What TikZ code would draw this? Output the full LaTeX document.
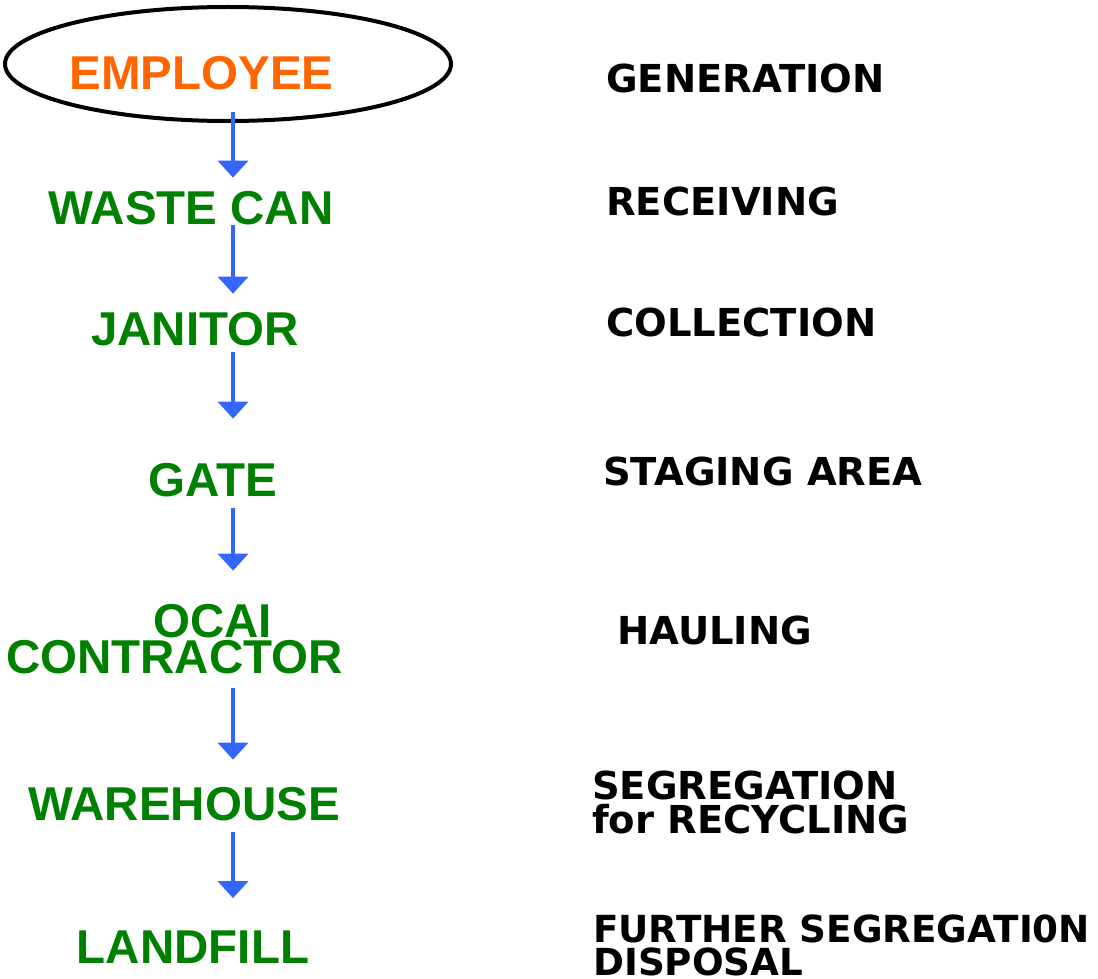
\documentclass[tikz,border=0pt]{standalone}
\usepackage{fontspec}
\usepackage{tikz}
\usetikzlibrary{shapes.geometric, arrows.meta}
\newfontfamily\leftfont{Liberation Sans}
\newfontfamily\rightfont{DejaVu Sans}
\definecolor{wasteorange}{HTML}{FF6600}
\definecolor{wastegreen}{HTML}{008000}
\definecolor{flowblue}{HTML}{3366FF}

\begin{document}
\begin{tikzpicture}[x=1pt,y=-1pt,
    holder/.style={font=\leftfont\bfseries\fontsize{47.5}{50}\selectfont, text=wastegreen, inner sep=0pt, anchor=base},
    stage/.style={font=\rightfont\bfseries\fontsize{38.5}{34}\selectfont, inner sep=0pt, anchor=base west, align=left},
    flow/.style={draw=flowblue, line width=4pt, -{Triangle[width=30pt,length=17pt]}}]
    \useasboundingbox (0,0) rectangle (1098,979);
    \coordinate (ax) at (233,0);

    \node[ellipse, draw, line width=4pt, inner sep=0pt, minimum width=446pt, minimum height=114pt] (circ) at (228,64) {};
    \node[holder, text=wasteorange] (employee) at (201.5,90) {EMPLOYEE};
    \node[holder] (waste) at (191,224) {WASTE CAN};
    \node[holder] (janitor) at (195,345) {JANITOR};
    \node[holder] (gate) at (213,496) {GATE};
    \node[holder] (ocai) at (212.5,637) {OCAI};
    \node[holder] (contractor) at (174.5,673) {CONTRACTOR};
    \node[holder] (warehouse) at (184,820) {WAREHOUSE};
    \node[holder] (landfill) at (193,963) {LANDFILL};

    \node[stage] (gen) at (606,93) {GENERATION};
    \node[stage] (rec) at (606,215) {RECEIVING};
    \node[stage] (coll) at (606,336) {COLLECTION};
    \node[stage] (stag) at (603,485) {STAGING AREA};
    \node[stage] (haul) at (617,644) {HAULING};
    \node[stage] (seg) at (592,833) {SEGREGATION\\for RECYCLING};
    \node[stage, font=\rightfont\bfseries\fontsize{37.3}{33}\selectfont] (disp) at (593,975) {FURTHER SEGREGATI0N\\DISPOSAL};

    \draw[flow] ([yshift=-22pt]employee.base -| ax) -- ([yshift=13pt]waste.north -| ax);
    \draw[flow] ([yshift=-1pt]waste.base -| ax) -- ([yshift=18pt]janitor.north -| ax);
    \draw[flow] ([yshift=-7pt]janitor.base -| ax) -- ([yshift=44pt]gate.north -| ax);
    \draw[flow] ([yshift=-12pt]gate.base -| ax) -- ([yshift=33pt]ocai.north -| ax);
    \draw[flow] ([yshift=-15pt]contractor.base -| ax) -- ([yshift=27pt]warehouse.north -| ax);
    \draw[flow] ([yshift=-12pt]warehouse.base -| ax) -- ([yshift=32pt]landfill.north -| ax);
\end{tikzpicture}
\end{document}
